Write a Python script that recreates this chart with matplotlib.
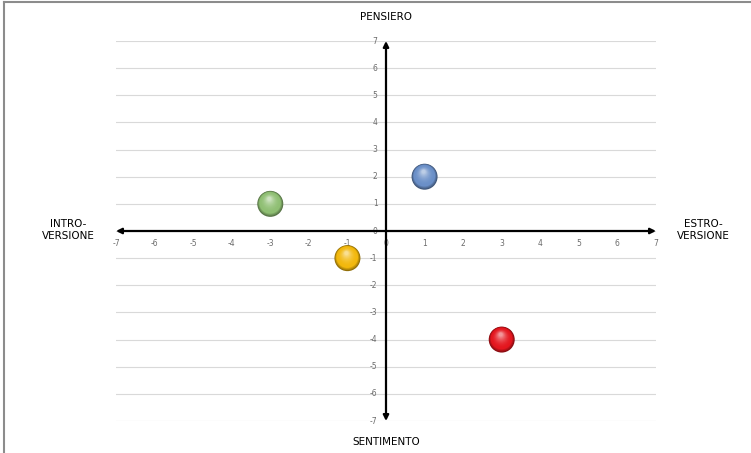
import numpy as np
import matplotlib.pyplot as plt
from matplotlib.colors import to_rgb

# dati dei quattro profili
x_vals = [1, -3, -1, 3]
y_vals = [2, 1, -1, -4]
colori = ['#6a8fc8', '#8fbf73', '#f2b80c', '#e4161e']
ticks = list(range(-7, 8))

fig = plt.figure(figsize=(7.51, 4.53), dpi=100)
ax = fig.add_axes([116 / 751, 32 / 453, 540 / 751, 380 / 453])
ax.set_xlim(-7, 7)
ax.set_ylim(-7, 7)

# griglia orizzontale
for t in ticks:
    ax.axhline(t, color='#d9d9d9', lw=0.8, zorder=0)

for s in ax.spines.values():
    s.set_visible(False)
ax.set_xticks([])
ax.set_yticks([])

# etichette dei tick accanto agli assi
for t in ticks:
    ax.text(t, -0.3, str(t), ha='center', va='top', fontsize=5.5, color='#6b6b6b')
    ax.text(-0.22, t, str(t), ha='right', va='center', fontsize=5.5, color='#6b6b6b')

# assi con frecce
arrow = dict(arrowstyle='<|-|>', color='black', lw=1.6, mutation_scale=8, shrinkA=0, shrinkB=0)
ax.annotate('', xy=(7, 0), xytext=(-7, 0), arrowprops=arrow, zorder=3)
ax.annotate('', xy=(0, 7), xytext=(0, -7), arrowprops=arrow, zorder=3)

# sfere con sfumatura
px_x = 540 / 14
px_y = 380 / 14
n = 16
for xv, yv, c in zip(x_vals, y_vals, colori):
    base = np.array(to_rgb(c))
    dark = base * 0.6
    for i in range(n):
        f = i / (n - 1)
        r = 13 * (1 - 0.85 * f)
        if f < 0.2:
            col = dark + (base - dark) * (f / 0.2)
        else:
            col = base + (1 - base) * ((f - 0.2) / 0.8) ** 2 * 0.55
        dx = -1.0 * f / px_x
        dy = 5.0 * f / px_y
        ax.scatter(xv + dx, yv + dy, s=(2 * r * 0.72) ** 2, color=np.clip(col, 0, 1),
                   edgecolors='none', zorder=5 + i)

# titoli dei quadranti
fig.text(386 / 751, 1 - 17 / 453, 'PENSIERO', ha='center', va='center', fontsize=7.5)
fig.text(386 / 751, 1 - 442 / 453, 'SENTIMENTO', ha='center', va='center', fontsize=7.5)
fig.text(68 / 751, 1 - 230 / 453, 'INTRO-\nVERSIONE', ha='center', va='center', fontsize=7.5, linespacing=1.3)
fig.text(703 / 751, 1 - 230 / 453, 'ESTRO-\nVERSIONE', ha='center', va='center', fontsize=7.5, linespacing=1.3)

# bordo superiore e sinistro
fig.add_artist(plt.Line2D([4 / 751, 1], [1 - 1.5 / 453, 1 - 1.5 / 453], color='#8c8c8c', lw=1.5))
fig.add_artist(plt.Line2D([4 / 751, 4 / 751], [0, 1 - 1.5 / 453], color='#8c8c8c', lw=1.5))

fig.savefig('out.png', dpi=100)
